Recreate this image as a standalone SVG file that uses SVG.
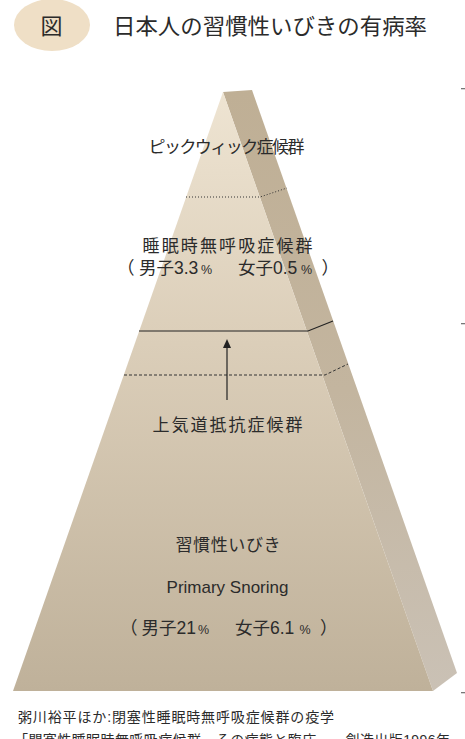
<svg xmlns="http://www.w3.org/2000/svg" width="465" height="739" viewBox="0 0 465 739">
<defs>
<linearGradient id="gFront" gradientUnits="userSpaceOnUse" x1="0" y1="92" x2="0" y2="691">
<stop offset="0" stop-color="#eee4d2"/>
<stop offset="0.4" stop-color="#dccfba"/>
<stop offset="1" stop-color="#bfb19a"/>
</linearGradient>
<linearGradient id="gSide" gradientUnits="userSpaceOnUse" x1="0" y1="90" x2="0" y2="691">
<stop offset="0" stop-color="#bfaf95"/>
<stop offset="0.5" stop-color="#c3b59f"/>
<stop offset="1" stop-color="#cac1b5"/>
</linearGradient>
<marker id="arr" markerWidth="9" markerHeight="8" refX="0" refY="4" orient="auto" markerUnits="userSpaceOnUse" viewBox="0 0 9 8">
<path d="M0,0 L9,4 L0,8 Z" fill="#222"/>
</marker>
</defs>
<style>
.t{font-family:"Liberation Sans","Noto Sans CJK JP",sans-serif;fill:#2b2b2b}
.lbl{font-size:17px}
.pc{font-size:12.5px}
.dot{stroke:#333;stroke-width:1;stroke-dasharray:1 2;fill:none}
.dash{stroke:#333;stroke-width:1;stroke-dasharray:3 2;fill:none}
.sol{stroke:#222;stroke-width:1.2;fill:none}
.tick{fill:#777}
</style>
<rect width="465" height="739" fill="#ffffff"/>

<g id="title">
<ellipse cx="52" cy="25" rx="38" ry="26" fill="#efdfc6"/>
<text class="t" x="51.5" y="34" font-size="22" text-anchor="middle">図</text>
<text class="t" x="113" y="34" font-size="22" textLength="314" lengthAdjust="spacingAndGlyphs">日本人の習慣性いびきの有病率</text>
</g>

<g id="pyramid">
<polygon points="223,92 252,90 457,673 433,691" fill="url(#gSide)"/>
<polygon points="223,92 433,691 13,691" fill="url(#gFront)"/>
</g>

<g id="connectors">
<polyline class="dot" points="186,197 260,197 287,188"/>
<polyline class="sol" points="139,331 308,331 333,321"/>
<polyline class="dash" points="124,375 325,375 348,364"/>
<line x1="227" y1="400" x2="227" y2="348" stroke="#222" stroke-width="1.2" marker-end="url(#arr)"/>
</g>

<g id="node-pickwick">
<text class="t lbl" x="148.5" y="153" textLength="156" lengthAdjust="spacing">ピックウィック症候群</text>
</g>

<g id="node-osas">
<text class="t lbl" x="142.5" y="252" textLength="170" lengthAdjust="spacing">睡眠時無呼吸症候群</text>
<text class="t" y="274" font-size="17.5"><tspan x="117">（</tspan><tspan x="139">男子3.3</tspan><tspan class="pc" x="201">%</tspan><tspan x="238">女子0.5</tspan><tspan class="pc" x="301">%</tspan><tspan x="321.5">）</tspan></text>
</g>

<g id="node-uars">
<text class="t lbl" x="152.5" y="431" textLength="150" lengthAdjust="spacing">上気道抵抗症候群</text>
</g>

<g id="node-snoring">
<text class="t lbl" x="175.5" y="551" textLength="105" lengthAdjust="spacing">習慣性いびき</text>
<text class="t" x="227.5" y="592.5" font-size="17" text-anchor="middle">Primary Snoring</text>
<text class="t" y="634" font-size="17.5"><tspan x="120">（</tspan><tspan x="141.5">男子21</tspan><tspan class="pc" x="198">%</tspan><tspan x="235">女子6.1</tspan><tspan class="pc" x="299.5">%</tspan><tspan x="320">）</tspan></text>
</g>

<g id="source">
<text class="t" x="18" y="722" font-size="14" textLength="316" lengthAdjust="spacing">粥川裕平ほか:閉塞性睡眠時無呼吸症候群の疫学</text>
<text class="t" x="14" y="745" font-size="14" textLength="436" lengthAdjust="spacing">「閉塞性睡眠時無呼吸症候群　その病態と臨床　　創造出版1996年</text>
</g>

<g id="ticks">
<rect class="tick" x="461" y="88" width="4" height="1.3"/>
<rect class="tick" x="461" y="323" width="4" height="1.3"/>
<rect class="tick" x="461" y="692" width="4" height="1.3"/>
</g>
</svg>
